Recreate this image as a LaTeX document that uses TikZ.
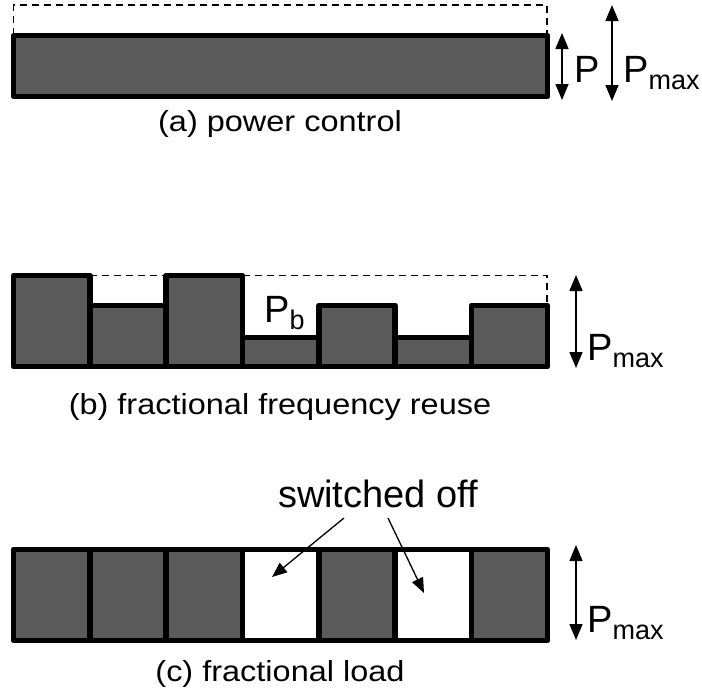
\documentclass[tikz,border=0pt]{standalone}
\usepackage{fontspec}
\setmainfont{Liberation Sans}
\newfontfamily\capfont[FakeStretch=1.12]{Liberation Sans}
\usetikzlibrary{arrows.meta}
\definecolor{barfill}{RGB}{90,90,90}
\newcommand{\withsub}[1]{P\lower7pt\hbox{\fontsize{27}{27}\selectfont #1}}

\begin{document}
\begin{tikzpicture}
    [x=1pt, y=-1pt,
      cell/.style={draw, line width=5.5pt, line join=round, fill=barfill},
      offcell/.style={cell, fill=white},
      limit/.style={line width=1.8pt, dash pattern=on 7pt off 5pt},
      span/.style={line width=1.5pt, {Triangle[length=16pt,width=13pt]}-{Triangle[length=16pt,width=13pt]}},
      pointer/.style={line width=1.3pt, -{Triangle[length=15pt,width=12pt]}},
      sym/.style={inner sep=0pt, anchor=base west, font=\fontsize{38}{38}\selectfont},
      subcap/.style={inner sep=0pt, anchor=base, font=\capfont\fontsize{29}{29}\selectfont},
    ]
    \useasboundingbox (0,0) rectangle (702,694);

    \draw [limit] (13.5,35) -- (13.5,5) -- (547,5) -- (547,35);
    \draw [cell] (13.5,35.5) rectangle (547.5,96.5);
    \coordinate (p top) at (562,33);
    \coordinate (p bot) at (562,100);
    \coordinate (pa top) at (612,5);
    \coordinate (pa bot) at (612,101);
    \draw [span] (p top) -- (p bot);
    \draw [span] (pa top) -- (pa bot);
    \node [sym] (p) at (574,82) {P};
    \node [sym] (pmaxa) at (623,82) {\withsub{max}};
    \node [subcap] (capa) at (280,131) {(a) power control};

    \draw [limit] (90,275.5) -- (166,275.5);
    \draw [limit] (242.5,275.5) -- (547,275.5) -- (547,305.5);
    \draw [cell] (13.5,275.5) rectangle (90,366.5);
    \draw [cell] (90,305.5) rectangle (166,366.5);
    \draw [cell] (166,275.5) rectangle (242.5,366.5);
    \draw [cell] (242.5,337.5) rectangle (319,366.5);
    \draw [cell] (319,305.5) rectangle (395,366.5);
    \draw [cell] (395,337.5) rectangle (471.5,366.5);
    \draw [cell] (471.5,305.5) rectangle (547.5,366.5);
    \node [sym] (pb) at (264,322) {\withsub{b}};
    \coordinate (pb top) at (576,275);
    \coordinate (pb bot) at (576,368);
    \draw [span] (pb top) -- (pb bot);
    \node [sym] (pmaxb) at (587,360) {\withsub{max}};
    \node [subcap] (capb) at (280,414) {(b) fractional frequency reuse};

    \node [sym, anchor=base] (off) at (378,507) {switched off};
    \draw [cell] (13.5,549.5) rectangle (90,640.5);
    \draw [cell] (90,549.5) rectangle (166,640.5);
    \draw [cell] (166,549.5) rectangle (242.5,640.5);
    \draw [offcell] (242.5,549.5) rectangle (319,640.5);
    \draw [cell] (319,549.5) rectangle (395,640.5);
    \draw [offcell] (395,549.5) rectangle (471.5,640.5);
    \draw [cell] (471.5,549.5) rectangle (547.5,640.5);
    \coordinate (off l) at (344,518);
    \coordinate (off r) at (388,518);
    \coordinate (gap l) at (272,577);
    \coordinate (gap r) at (424,593);
    \draw [pointer] (off l) -- (gap l);
    \draw [pointer] (off r) -- (gap r);
    \coordinate (pc top) at (576,545);
    \coordinate (pc bot) at (576,640);
    \draw [span] (pc top) -- (pc bot);
    \node [sym] (pmaxc) at (587,632) {\withsub{max}};
    \node [subcap] (capc) at (280,681) {(c) fractional load};
  \end{tikzpicture}
\end{document}
